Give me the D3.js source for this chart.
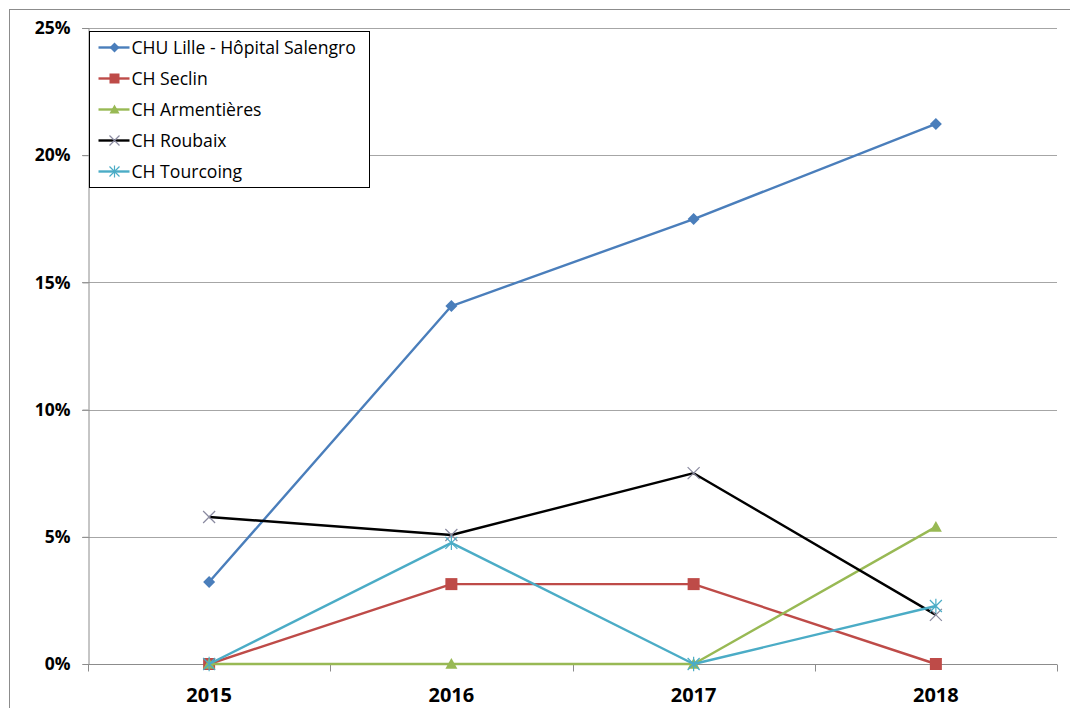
<!DOCTYPE html>
<html>
<head>
<meta charset="utf-8">
<script src="https://cdn.jsdelivr.net/npm/d3@7"></script>
<style>
  body { margin: 0; background: #fff; }
  svg { display: block; font-family: "Open Sans", "Noto Sans", sans-serif; }
</style>
</head>
<body>
<svg id="chart" width="1070" height="708"></svg>
<script>
// ---- data ----
const years = ["2015", "2016", "2017", "2018"];
const yTicks = [0, 0.05, 0.10, 0.15, 0.20, 0.25];

const chuLille    = [0.0322, 0.1407, 0.1749, 0.2123];
const chSeclin    = [0, 0.0314, 0.0314, 0];
const chArment    = [0, 0, 0, 0.0539];
const chRoubaix   = [0.0578, 0.0507, 0.0750, 0.0193];
const chTourcoing = [0, 0.0476, 0, 0.0228];

const series = [
  { name: "CHU Lille - Hôpital Salengro", values: chuLille, color: "#4a7ebb", marker: "diamond" },
  { name: "CH Seclin", values: chSeclin, color: "#be4b48", marker: "square" },
  { name: "CH Armentières", values: chArment, color: "#98b954", marker: "triangle" },
  { name: "CH Roubaix", values: chRoubaix, color: "#000000", marker: "x", markerColor: "#8a8aa0" },
  { name: "CH Tourcoing", values: chTourcoing, color: "#4bacc6", marker: "star" }
];

// ---- layout ----
const svg = d3.select("#chart");
const margin = { top: 28, right: 13, bottom: 44, left: 88 };
const W = 1070, H = 708;
const innerW = W - margin.left - margin.right;
const innerH = H - margin.top - margin.bottom;

// outer chart border (top + left visible)
svg.append("rect")
  .attr("x", 9.5).attr("y", 9.5)
  .attr("width", W + 10).attr("height", H + 10)
  .attr("fill", "none").attr("stroke", "#8c8c8c").attr("stroke-width", 1);

const g = svg.append("g").attr("transform", `translate(${margin.left},${margin.top})`);

const x = d3.scaleBand().domain(years).range([0, innerW]).padding(0);
const y = d3.scaleLinear().domain([0, 0.25]).range([innerH, 0]);
const cx = d => x(d) + x.bandwidth() / 2;

// gridlines
g.append("g")
  .selectAll("line")
  .data(yTicks.filter(t => t > 0))
  .join("line")
  .attr("x1", -6).attr("x2", innerW)
  .attr("y1", d => Math.round(y(d)) + 0.5).attr("y2", d => Math.round(y(d)) + 0.5)
  .attr("stroke", "#a6a6a6").attr("stroke-width", 1);

// y axis
const yAxis = g.append("g")
  .attr("transform", "translate(0.5,0)")
  .call(d3.axisLeft(y).tickValues(yTicks).tickFormat(d3.format(".0%")).tickSize(6).tickPadding(12));
yAxis.select(".domain").attr("stroke", "#8c8c8c");
yAxis.selectAll(".tick line").attr("stroke", "#8c8c8c");
yAxis.selectAll("text")
  .attr("font-size", 17.5).attr("font-weight", "bold").attr("fill", "#000")
  .attr("font-family", "'Open Sans', sans-serif");

// x axis with ticks between categories
const xAxisG = g.append("g").attr("transform", `translate(0,${innerH + 0.5})`);
xAxisG.append("line").attr("x1", 0).attr("x2", innerW).attr("stroke", "#8c8c8c");
xAxisG.selectAll("line.tk")
  .data(d3.range(years.length + 1))
  .join("line").attr("class", "tk")
  .attr("x1", i => Math.round(i * x.step()) + 0.5)
  .attr("x2", i => Math.round(i * x.step()) + 0.5)
  .attr("y1", 0).attr("y2", 7)
  .attr("stroke", "#8c8c8c");
xAxisG.selectAll("text")
  .data(years)
  .join("text")
  .attr("x", d => cx(d))
  .attr("y", 37.5)
  .attr("text-anchor", "middle")
  .attr("font-size", 20).attr("font-weight", "bold")
  .text(d => d);

// marker drawing
function drawMarker(sel, type, color, size) {
  const s = size;
  if (type === "diamond") {
    sel.append("path").attr("d", `M0,${-s}L${s},0L0,${s}L${-s},0Z`).attr("fill", color);
  } else if (type === "square") {
    sel.append("rect").attr("x", -s).attr("y", -s).attr("width", 2 * s).attr("height", 2 * s).attr("fill", color);
  } else if (type === "triangle") {
    sel.append("path").attr("d", `M0,${-s}L${s},${s * 0.8}L${-s},${s * 0.8}Z`).attr("fill", color);
  } else if (type === "x") {
    sel.append("path").attr("d", `M${-s},${-s}L${s},${s}M${-s},${s}L${s},${-s}`)
      .attr("stroke", color).attr("stroke-width", 1.2).attr("fill", "none");
  } else if (type === "star") {
    sel.append("path").attr("d", `M${-s},${-s}L${s},${s}M${-s},${s}L${s},${-s}M0,${-s * 1.2}L0,${s * 1.2}`)
      .attr("stroke", color).attr("stroke-width", 1.2).attr("fill", "none");
  }
}

const line = d3.line().x((d, i) => cx(years[i])).y(d => y(d));

series.forEach(s => {
  g.append("path")
    .datum(s.values)
    .attr("d", line)
    .attr("fill", "none")
    .attr("stroke", s.color)
    .attr("stroke-width", 2.4)
    .attr("stroke-linejoin", "round");
  s.values.forEach((v, i) => {
    const m = g.append("g").attr("transform", `translate(${cx(years[i])},${y(v)})`);
    drawMarker(m, s.marker, s.markerColor || s.color, 6);
  });
});

// legend
const legend = svg.append("g").attr("transform", "translate(89.5,31.5)");
legend.append("rect")
  .attr("width", 280).attr("height", 156)
  .attr("fill", "#fff").attr("stroke", "#000").attr("stroke-width", 1);
series.forEach((s, i) => {
  const row = legend.append("g").attr("transform", `translate(0,${16 + i * 31})`);
  row.append("line").attr("x1", 9).attr("x2", 40).attr("stroke", s.color).attr("stroke-width", 2.4);
  const m = row.append("g").attr("transform", "translate(25,0)");
  drawMarker(m, s.marker, s.markerColor || s.color, 5);
  row.append("text")
    .attr("x", 42).attr("y", 0).attr("dy", "0.35em")
    .attr("font-size", 17.6)
    .text(s.name);
});
</script>
</body>
</html>
